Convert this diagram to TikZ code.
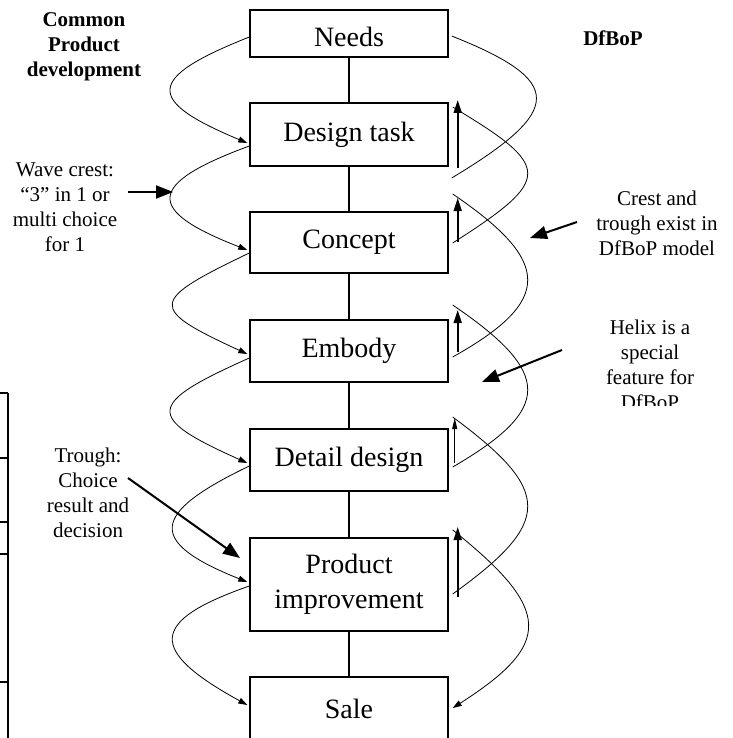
\documentclass[tikz,border=0pt]{standalone}
\usepackage{fontspec}
\setmainfont{Liberation Serif}
\usetikzlibrary{arrows.meta,calc}
\begin{document}
\begin{tikzpicture}[x=1pt,y=-1pt,
  stage/.style={draw,line width=1.4pt,minimum width=198pt,inner sep=0pt,
    font=\fontsize{28}{35.5}\selectfont,align=center},
  link/.style={line width=1.4pt},
  wave/.style={line width=0.8pt},
  wavetip/.style={-{Triangle[length=9pt,width=6pt]}},
  lift/.style={line width=1.8pt,-{Triangle[length=13pt,width=8pt]}},
  thinlift/.style={line width=0.9pt,-{Triangle[length=11pt,width=5pt]}},
  note/.style={font=\fontsize{21}{25}\selectfont,align=center,inner sep=0pt},
  heading/.style={font=\fontsize{21}{25}\selectfont\bfseries,align=center,inner sep=0pt},
  pointer/.style={line width=2pt,-{Triangle[length=17pt,width=13pt]}},
  tabline/.style={line width=2pt}]

\useasboundingbox (0,0) rectangle (732,738);
\clip (0,0) rectangle (732,738);

% process stages
\node[stage,minimum height=47pt,text height=26pt] (needs) at (349,33.5) {Needs};
\node[stage,minimum height=63pt] (design)  at (349,134.5) {Design task};
\node[stage,minimum height=61pt] (concept) at (349,242.5) {Concept};
\node[stage,minimum height=62pt] (embody)  at (349,351)   {Embody};
\node[stage,minimum height=62pt] (detail)  at (349,460)   {Detail design};
\node[stage,minimum height=93pt] (product) at (349,584.5) {Product\\improvement};
\node[stage,minimum height=63pt] (sale)    at (349,708.5) {Sale};

\draw[link] (needs) -- (design);
\draw[link] (design) -- (concept);
\draw[link] (concept) -- (embody);
\draw[link] (embody) -- (detail);
\draw[link] (detail) -- (product);
\draw[link] (product) -- (sale);

% left-hand wave of common product development
\draw[wave,wavetip] ($(needs.west)+(0,3.5)$)
  .. controls +(-103,41) and +(-103,-43) .. ($(design.west)+(-2,8.5)$);
\draw[wave,wavetip] ($(design.west)+(0,11.5)$)
  .. controls +(-103,38) and +(-103,-40) .. ($(concept.west)+(-2,7.5)$);
\draw[wave,wavetip] ($(concept.west)+(0,10.5)$)
  .. controls +(-100,48) and +(-100,-46) .. ($(embody.west)+(-2,3)$);
\draw[wave,wavetip] ($(embody.west)+(0,7)$)
  .. controls +(-103,46) and +(-103,-46) .. ($(detail.west)+(-2,3)$);
\draw[wave,wavetip] ($(detail.west)+(0,6)$)
  .. controls +(-100,48) and +(-100,-40) .. ($(product.west)+(-2,-2.5)$);
\draw[wave,wavetip] ($(product.west)+(0,1.5)$)
  .. controls +(-100,35) and +(-100,-55) .. ($(sale.west)+(-2,-3.5)$);

% right-hand helix of DfBoP
\draw[wave] ($(needs.east)+(3,2.5)$)
  .. controls +(113,45) and +(113,-68) .. ($(design.east)+(3,43.5)$);
\draw[wave] ($(design.east)+(4,-27.5)$)
  .. controls +(100,60) and +(100,-64) .. ($(concept.east)+(4,0.5)$);
\draw[wave] ($(concept.east)+(4,-48.5)$)
  .. controls +(100,68) and +(100,-56) .. ($(embody.east)+(4,6)$);
\draw[wave] ($(embody.east)+(4,-46)$)
  .. controls +(100,68) and +(100,-58) .. ($(detail.east)+(4,7)$);
\draw[wave] ($(detail.east)+(4,-43)$)
  .. controls +(100,74) and +(100,-72) .. ($(product.east)+(4,9.5)$);
\draw[wave,wavetip] ($(product.east)+(4,-54.5)$)
  .. controls +(100,80) and +(100,-64) .. ($(sale.east)+(4,-0.5)$);

% upward arrows beside the stages
\draw[lift] ($(design.east)+(9,33.5)$) -- ($(design.east)+(9,-34.5)$);
\draw[lift] ($(concept.east)+(9,-0.5)$) -- ($(concept.east)+(9,-44.5)$);
\draw[lift] ($(embody.east)+(9,1)$) -- ($(embody.east)+(9,-41)$);
\draw[thinlift] ($(detail.east)+(6,3)$) -- ($(detail.east)+(6,-42)$);
\draw[lift] ($(product.east)+(9,12.5)$) -- ($(product.east)+(9,-57.5)$);

% edge of the neighbouring table
\draw[tabline] (8,393) -- (8,745);
\foreach \y in {393,458,522,554,682}
  \draw[tabline] (-2,\y) -- (8,\y);

% headings and notes
\node[heading] (common) at (84,47) {Common\\Product\\development};
\node[heading] (dfbop) at (613,38) {DfBoP};
\node[note] (crestnote) at (65,207.5) {Wave crest:\\“3” in 1 or\\multi choice\\for 1};
\node[note] (existnote) at (657,223) {Crest and\\trough exist in\\DfBoP model};
\begin{scope}
  \clip (560,300) rectangle (740,405.5);
  \node[note] (helixnote) at (650,364.5) {Helix is a\\special\\feature for\\DfBoP};
\end{scope}
\node[note] (troughnote) at (88,492.5) {Trough:\\Choice\\result and\\decision};

% pointers from the notes
\coordinate (crestfrom) at (128,192);
\coordinate (crestto)   at (173,192);
\coordinate (existfrom) at (577,222);
\coordinate (existto)   at (530,238);
\coordinate (helixfrom) at (562,350);
\coordinate (helixto)   at (482,382);
\coordinate (troughfrom) at (128,478);
\coordinate (troughto)   at (240,558);
\draw[pointer] (crestfrom) -- (crestto);
\draw[pointer] (existfrom) -- (existto);
\draw[pointer] (helixfrom) -- (helixto);
\draw[pointer] (troughfrom) -- (troughto);
\end{tikzpicture}
\end{document}
